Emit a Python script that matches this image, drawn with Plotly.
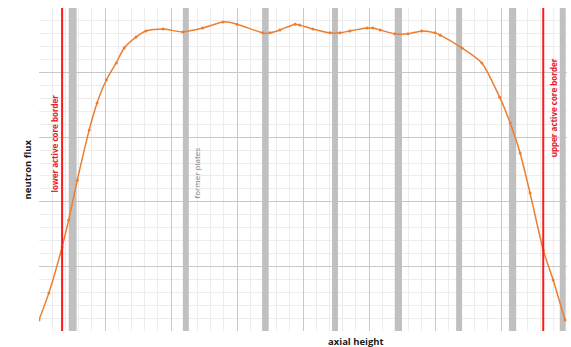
import plotly.graph_objects as go

# axial height positions and neutron flux values (relative units)
height = [0, 15, 35, 45, 58, 76, 88, 102, 117, 129, 147, 162, 188, 218, 248, 279, 300,
          339, 350, 365, 388, 395, 415, 441, 456, 471, 497, 506, 517, 539, 559, 580,
          600, 608, 641, 671, 698, 714, 729, 744, 764, 779, 797]
flux = [3.4, 11.8, 26.0, 34.4, 46.7, 62.2, 70.6, 77.7, 83.0, 87.6, 91.0, 92.9, 93.5, 92.6,
        93.8, 95.7, 95.0, 92.3, 92.3, 93.2, 95.0, 94.7, 93.5, 92.3, 92.3, 92.9, 93.8, 93.8,
        93.2, 92.0, 92.0, 92.9, 92.3, 91.6, 87.6, 83.0, 72.4, 64.4, 55.1, 42.7, 25.1, 15.8, 3.4]

# former plate positions (start, end) along axial height
plate_start = [45, 218, 338, 444, 539, 632, 712, 789]
plate_end = [57, 227, 348, 453, 550, 641, 723, 798]

# active core borders
core_borders = [35, 764]
border_labels = ["lower active core border", "upper active core border"]
border_label_x = [24, 779]
border_label_y = [58, 69]

fig = go.Figure()

shapes = []
for s, e in zip(plate_start, plate_end):
    shapes.append(dict(type="rect", xref="x", yref="y", x0=s, x1=e, y0=0, y1=100,
                       fillcolor="#c0c0c0", line=dict(width=0), layer="between"))
for b in core_borders:
    shapes.append(dict(type="line", xref="x", yref="y", x0=b, x1=b, y0=0, y1=100,
                       line=dict(color="#ff1a1a", width=2), layer="above"))

fig.add_trace(go.Scatter(x=height, y=flux, mode="lines+markers",
                         line=dict(color="#ED7D31", width=1.5, shape="spline", smoothing=0.6),
                         marker=dict(size=3, color="#ED7D31"),
                         hoverinfo="skip"))

annotations = []
for bx, t, yy in zip(border_label_x, border_labels, border_label_y):
    annotations.append(dict(x=bx, y=yy, xref="x", yref="y", text="<b>" + t + "</b>",
                            textangle=-90, showarrow=False,
                            font=dict(family="Open Sans", size=8, color="#e8202a")))
annotations.append(dict(x=239, y=49, xref="x", yref="y", text="former plates",
                        textangle=-90, showarrow=False,
                        font=dict(family="Open Sans", size=8, color="#808080")))
annotations.append(dict(x=0.6, y=-0.031, xref="paper", yref="paper", text="<b>axial height</b>",
                        showarrow=False, yanchor="middle",
                        font=dict(family="Open Sans", size=9.5, color="#1a1a1a")))
annotations.append(dict(x=-0.021, y=0.5, xref="paper", yref="paper", text="<b>neutron flux</b>",
                        textangle=-90, showarrow=False, xanchor="center",
                        font=dict(family="Open Sans", size=9.5, color="#1a1a1a")))

fig.update_layout(
    width=571, height=347,
    margin=dict(l=39, r=4, t=8, b=16),
    paper_bgcolor="white", plot_bgcolor="white",
    showlegend=False,
    shapes=shapes, annotations=annotations,
    xaxis=dict(range=[0, 800], dtick=100, showticklabels=False, ticks="",
               showgrid=True, gridcolor="#c8c8c8", gridwidth=1, zeroline=False,
               minor=dict(dtick=20, showgrid=True, gridcolor="#ececec", gridwidth=1),
               showline=False),
    yaxis=dict(range=[0, 100], dtick=20, showticklabels=False, ticks="",
               showgrid=True, gridcolor="#c8c8c8", gridwidth=1, zeroline=False,
               minor=dict(dtick=4, showgrid=True, gridcolor="#ececec", gridwidth=1),
               showline=False),
)

fig.write_html("out.html", config={"displayModeBar": False},
               post_script="document.body.style.margin='0';")
